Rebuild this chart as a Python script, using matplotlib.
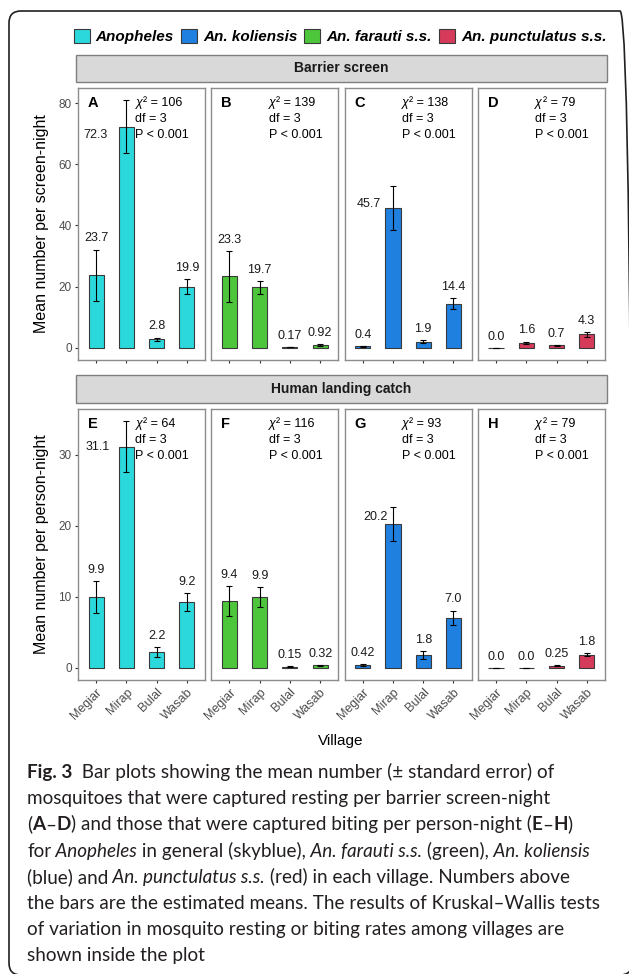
import re
import numpy as np
import matplotlib
matplotlib.use('Agg')
import matplotlib.pyplot as plt
from matplotlib.patches import Rectangle, FancyBboxPatch, Patch
from matplotlib.transforms import IdentityTransform
from matplotlib.font_manager import FontProperties

plt.rcParams['font.family'] = ['Liberation Sans', 'DejaVu Sans']

# ---------------- data ----------------
villages = ['Megiar', 'Mirap', 'Bulal', 'Wasab']
species = ['Anopheles', 'An. koliensis', 'An. farauti s.s.', 'An. punctulatus s.s.']
species_colors = ['#2BD9DD', '#1F80E0', '#4DC63B', '#D63A5B']

screen_anopheles = [23.7, 72.3, 2.8, 19.9]
screen_anopheles_se = [8.4, 8.6, 0.5, 2.45]
screen_farauti = [23.3, 19.7, 0.17, 0.92]
screen_farauti_se = [8.3, 2.2, 0.08, 0.25]
screen_koliensis = [0.4, 45.7, 1.9, 14.4]
screen_koliensis_se = [0.15, 7.3, 0.5, 1.9]
screen_punctulatus = [0.0, 1.6, 0.7, 4.3]
screen_punctulatus_se = [0.0, 0.4, 0.2, 0.75]

landing_anopheles = [9.9, 31.1, 2.2, 9.2]
landing_anopheles_se = [2.25, 3.6, 0.65, 1.25]
landing_farauti = [9.4, 9.9, 0.15, 0.32]
landing_farauti_se = [2.1, 1.4, 0.05, 0.1]
landing_koliensis = [0.42, 20.2, 1.8, 7.0]
landing_koliensis_se = [0.15, 2.4, 0.55, 1.05]
landing_punctulatus = [0.0, 0.0, 0.25, 1.8]
landing_punctulatus_se = [0.0, 0.0, 0.07, 0.22]

panel_letters = ['A', 'B', 'C', 'D', 'E', 'F', 'G', 'H']
chi2_values = [106, 139, 138, 79, 64, 116, 93, 79]
df_value = 3
p_text = 'P < 0.001'

row_titles = ['Barrier screen', 'Human landing catch']
y_titles = ['Mean number per screen-night', 'Mean number per person-night']
x_title = 'Village'

caption_lines = [
    "<b>Fig. 3</b>  Bar plots showing the mean number (± standard error) of",
    "mosquitoes that were captured resting per barrier screen-night",
    "(<b>A</b>–<b>D</b>) and those that were captured biting per person-night (<b>E</b>–<b>H</b>)",
    "for <i>Anopheles</i> in general (skyblue), <i>An. farauti s.s.</i> (green), <i>An. koliensis</i>",
    "(blue) and <i>An. punctulatus s.s.</i> (red) in each village. Numbers above",
    "the bars are the estimated means. The results of Kruskal–Wallis tests",
    "of variation in mosquito resting or biting rates among villages are",
    "shown inside the plot",
]

rows = [
    [(screen_anopheles, screen_anopheles_se, 0),
     (screen_farauti, screen_farauti_se, 2),
     (screen_koliensis, screen_koliensis_se, 1),
     (screen_punctulatus, screen_punctulatus_se, 3)],
    [(landing_anopheles, landing_anopheles_se, 0),
     (landing_farauti, landing_farauti_se, 2),
     (landing_koliensis, landing_koliensis_se, 1),
     (landing_punctulatus, landing_punctulatus_se, 3)],
]

# label nudges (style) for labels drawn beside tall bars: panel -> (dx, dy in px)
side_label_nudge = {0: (-31, -8), 2: (-24, 4), 4: (-29, 0), 6: (-17, 7)}

# ---------------- layout ----------------
W, H = 629, 974
fig = plt.figure(figsize=(W / 100, H / 100), dpi=100)


def fx(px):
    return px / W


def fy(py):
    return 1 - py / H


panel_lefts = [78, 211.3, 344.6, 477.9]
panel_w = 127
row_tops = [88, 409]
row_bottoms = [360, 680]
strip_tops = [55, 375]
strip_bottoms = [82, 403]

grid_col = '#8C8C8C'
tick_col = '#4D4D4D'


def fmt(v):
    return f'{v:.1f}' if (v >= 1 or v == 0) else f'{v:g}'


renderer = fig.canvas.get_renderer()
x = np.arange(1, 5)

for r, row in enumerate(rows):
    ymax = max(max(np.array(m) + np.array(s)) for m, s, _ in row)
    pad = 0.05 * ymax
    for c, (means, ses, ci) in enumerate(row):
        pidx = r * 4 + c
        ax = fig.add_axes([fx(panel_lefts[c]), fy(row_bottoms[r]),
                           panel_w / W, (row_bottoms[r] - row_tops[r]) / H])
        ax.bar(x, means, width=0.5, color=species_colors[ci], edgecolor='#3A3A3A',
               linewidth=0.8, zorder=2)
        ax.errorbar(x, means, yerr=ses, fmt='none', ecolor='black', elinewidth=0.8,
                    capsize=2.5, capthick=0.8, zorder=3)
        ax.set_xlim(0.4, 4.6)
        ax.set_ylim(-pad, ymax + pad)
        for sp in ax.spines.values():
            sp.set_color(grid_col)
            sp.set_linewidth(1.0)
        ax.set_xticks(x)
        ax.tick_params(axis='both', length=2.5, width=0.8, color='#333333',
                       labelsize=8.5, labelcolor=tick_col, pad=2)
        if r == 1:
            ax.set_xticklabels(villages, rotation=45, ha='right', va='top',
                               rotation_mode='anchor', fontsize=9)
        else:
            ax.set_xticklabels([])
        ax.set_yticks([0, 20, 40, 60, 80] if r == 0 else [0, 10, 20, 30])
        if c != 0:
            ax.tick_params(axis='y', left=False, labelleft=False)

        # value labels
        imax = int(np.argmax(means))
        for i, (m, s) in enumerate(zip(means, ses)):
            if pidx in side_label_nudge and i == imax:
                dx, dy = side_label_nudge[pidx]
                ax.annotate(fmt(m), xy=(x[i], m), xytext=(dx * 0.72, dy * 0.72),
                            textcoords='offset points', ha='center', va='center',
                            fontsize=9, color='#1A1A1A')
            else:
                ax.annotate(fmt(m), xy=(x[i], m + s), xytext=(0, 8),
                            textcoords='offset points', ha='center', va='center',
                            fontsize=9, color='#1A1A1A')

        # panel letter
        ax.annotate(panel_letters[pidx], xy=(0, ymax), xycoords=('axes fraction', 'data'),
                    xytext=(7, -2.2), textcoords='offset points', ha='left', va='center',
                    fontsize=10.5, fontweight='bold', color='black')
        # chi-square text
        chi = ax.annotate('χ', xy=(2.3, ymax), xytext=(0, -2.2), textcoords='offset points',
                          ha='left', va='center', fontsize=9, fontstyle='italic')
        wchi = chi.get_window_extent(renderer).width * 72 / 100
        ax.annotate(f'² = {chi2_values[pidx]}', xy=(2.3, ymax), xytext=(wchi + 0.3, -2.2),
                    textcoords='offset points', ha='left', va='center', fontsize=9)
        ax.annotate(f'df = {df_value}', xy=(2.3, ymax), xytext=(0, -13.7),
                    textcoords='offset points', ha='left', va='center', fontsize=9)
        ax.annotate(p_text, xy=(2.3, ymax), xytext=(0, -25.2),
                    textcoords='offset points', ha='left', va='center', fontsize=9)

    # strip
    fig.add_artist(Rectangle((fx(76), fy(strip_bottoms[r])), (607 - 76) / W,
                             (strip_bottoms[r] - strip_tops[r]) / H,
                             transform=fig.transFigure, facecolor='#D9D9D9',
                             edgecolor='#7F7F7F', linewidth=1.0))
    fig.text(fx(341.5), fy((strip_tops[r] + strip_bottoms[r]) / 2), row_titles[r],
             ha='center', va='center', fontsize=10, fontweight='bold', color='#1A1A1A')
    fig.text(fx(42), fy((row_tops[r] + row_bottoms[r]) / 2), y_titles[r], rotation=90,
             ha='center', va='center', fontsize=11.5, color='black')

fig.text(fx(341), fy(741), x_title, ha='center', va='center', fontsize=11)

# legend
handles = [Patch(facecolor=col, edgecolor='#3A3A3A', linewidth=0.8, label=sp)
           for sp, col in zip(species, species_colors)]
fig.legend(handles=handles, loc='center', bbox_to_anchor=(fx(340), fy(36.5)), ncol=4,
           frameon=False,
           prop=FontProperties(family=['Liberation Sans'], weight='bold', style='italic', size=11),
           handlelength=1.05, handleheight=1.1, handletextpad=0.4, columnspacing=0.45,
           borderaxespad=0, borderpad=0)


# caption (rich text, drawn segment by segment)
def parse_segments(line):
    parts = [p for p in re.split(r'(<b>.*?</b>|<i>.*?</i>)', line) if p]
    segs = []
    for p in parts:
        if p.startswith('<b>'):
            segs.append([p[3:-4], 'bold'])
        elif p.startswith('<i>'):
            segs.append([p[3:-4], 'italic'])
        else:
            segs.append([p, 'normal'])
    # move trailing spaces to the start of the following segment
    for k in range(len(segs) - 1):
        txt = segs[k][0]
        stripped = txt.rstrip(' ')
        n = len(txt) - len(stripped)
        segs[k][0] = stripped
        segs[k + 1][0] = ' ' * n + segs[k + 1][0]
    return segs


cap_family = ['Lato', 'DejaVu Sans']


def draw_rich(x_px, y_px, line, size):
    xpos = x_px
    arts = []
    for txt, style in parse_segments(line):
        t = fig.text(fx(xpos), fy(y_px), txt, ha='left', va='baseline', fontsize=size,
                     family=cap_family, color='#231F20',
                     fontweight='bold' if style == 'bold' else 'normal',
                     fontstyle='italic' if style == 'italic' else 'normal')
        xpos += t.get_window_extent(renderer).width
        arts.append(t)
    return xpos - x_px, arts


w6, tmp = draw_rich(27, 900, caption_lines[5], 12)
for t in tmp:
    t.remove()
cap_size = 12 * 568 / w6
for i, line in enumerate(caption_lines):
    draw_rich(27, 778 + i * 26.2, line, cap_size)

# outer rounded border
fig.add_artist(FancyBboxPatch((9, -1), 623, 964, boxstyle='round,pad=0,rounding_size=12',
                              transform=IdentityTransform(), facecolor='none',
                              edgecolor='#231F20', linewidth=1.2))

fig.savefig('out.png', dpi=100)
